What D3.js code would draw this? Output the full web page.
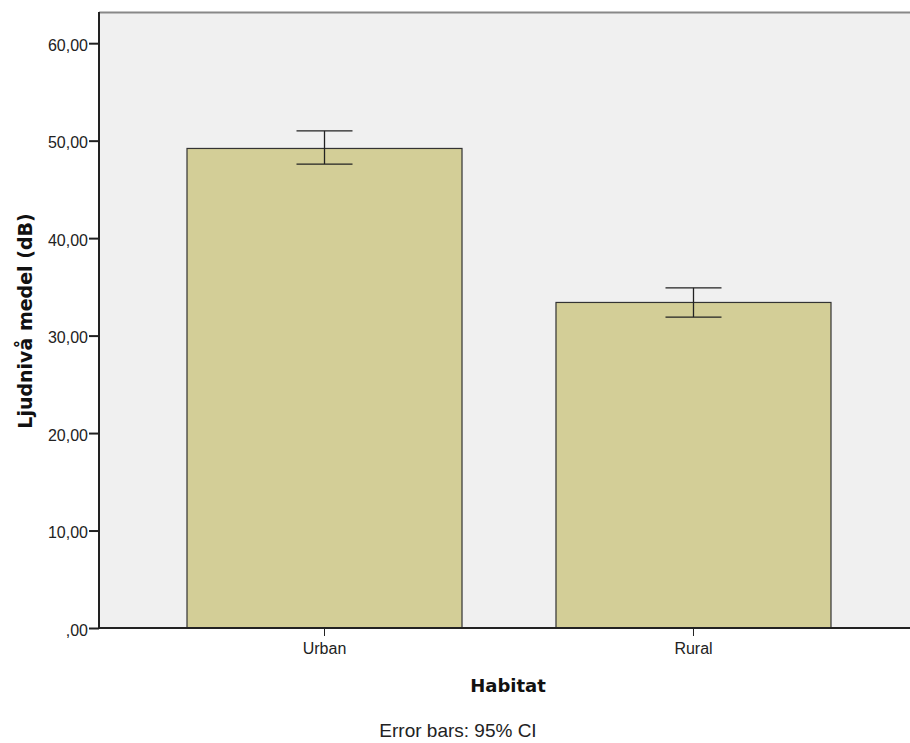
<!DOCTYPE html>
<html>
<head>
<meta charset="utf-8">
<script src="https://cdn.jsdelivr.net/npm/d3@7"></script>
<style>
  body { margin: 0; background: #fff; }
  svg { display: block; font-family: "Liberation Sans", Arial, sans-serif; }
  .axis text { font-size: 16px; fill: #222; font-family: "Liberation Sans", Arial, sans-serif; }
  .axis path, .axis line { stroke: #222; }
</style>
</head>
<body>
<div id="chart"></div>
<script>
const categories = ["Urban", "Rural"];
const means = [49.2, 33.4];
const ciLow = [47.6, 31.9];
const ciHigh = [51.0, 34.9];
const yTicks = [0, 10, 20, 30, 40, 50, 60];

const width = 910, height = 743;
const plot = {left: 99, top: 12, right: 910, bottom: 628};

const svg = d3.select("#chart").append("svg")
  .attr("width", width)
  .attr("height", height);

const y = d3.scaleLinear()
  .domain([0, 63.2])
  .range([plot.bottom, plot.top]);

const x = d3.scaleBand()
  .domain(categories)
  .range([plot.left, 919])
  .paddingInner(0.2547)
  .paddingOuter(0.2385);

// plot background
svg.append("rect")
  .attr("x", plot.left)
  .attr("y", plot.top)
  .attr("width", plot.right - plot.left)
  .attr("height", plot.bottom - plot.top)
  .attr("fill", "#f0f0f0");

// top frame line
svg.append("line")
  .attr("x1", plot.left).attr("x2", plot.right)
  .attr("y1", plot.top + 0.5).attr("y2", plot.top + 0.5)
  .attr("stroke", "#888").attr("stroke-width", 2);

const fmt = v => v === 0 ? ",00" : d3.format(".2f")(v).replace(".", ",");

// bars
svg.append("g").selectAll("rect")
  .data(categories)
  .join("rect")
    .attr("x", d => x(d))
    .attr("y", (d, i) => y(means[i]))
    .attr("width", x.bandwidth())
    .attr("height", (d, i) => y(0) - y(means[i]))
    .attr("fill", "#d3ce97")
    .attr("stroke", "#333")
    .attr("stroke-width", 1.2);

// error bars
const capW = 56;
const err = svg.append("g").attr("stroke", "#222").attr("stroke-width", 1.3);
categories.forEach((c, i) => {
  const cx = x(c) + x.bandwidth() / 2;
  err.append("line")
    .attr("x1", cx).attr("x2", cx)
    .attr("y1", y(ciLow[i])).attr("y2", y(ciHigh[i]));
  [ciLow[i], ciHigh[i]].forEach(v => {
    err.append("line")
      .attr("x1", cx - capW / 2).attr("x2", cx + capW / 2)
      .attr("y1", y(v)).attr("y2", y(v));
  });
});

// y axis
const yAxis = svg.append("g")
  .attr("class", "axis")
  .attr("transform", `translate(${plot.left},0)`)
  .call(d3.axisLeft(y).tickValues(yTicks).tickFormat(fmt).tickSize(10).tickSizeOuter(0));
yAxis.select(".domain").attr("stroke-width", 2)
  .attr("d", `M0,${plot.top}V${plot.bottom}`);
yAxis.selectAll(".tick line").attr("stroke-width", 2);
yAxis.selectAll(".tick text").attr("x", -11).attr("dy", "0.45em");

// x axis
const xAxis = svg.append("g")
  .attr("class", "axis")
  .attr("transform", `translate(0,${plot.bottom})`)
  .call(d3.axisBottom(x).tickSize(8).tickSizeOuter(0));
xAxis.select(".domain").attr("stroke-width", 2)
  .attr("d", `M${plot.left},0H${plot.right}`);
xAxis.selectAll(".tick text").attr("y", 12).attr("dy", "0.9em");

// titles
svg.append("text")
  .attr("transform", `translate(32,${321}) rotate(-90)`)
  .attr("text-anchor", "middle")
  .attr("font-family", "DejaVu Sans")
  .attr("font-size", 19)
  .attr("font-weight", "bold")
  .attr("fill", "#111")
  .text("Ljudnivå medel (dB)");

svg.append("text")
  .attr("x", 508)
  .attr("y", 692)
  .attr("text-anchor", "middle")
  .attr("font-family", "DejaVu Sans")
  .attr("font-size", 18)
  .attr("font-weight", "bold")
  .attr("fill", "#111")
  .text("Habitat");

svg.append("text")
  .attr("x", 458)
  .attr("y", 737)
  .attr("text-anchor", "middle")
  .attr("font-size", 19)
  .attr("fill", "#222")
  .text("Error bars: 95% CI");
</script>
</body>
</html>
